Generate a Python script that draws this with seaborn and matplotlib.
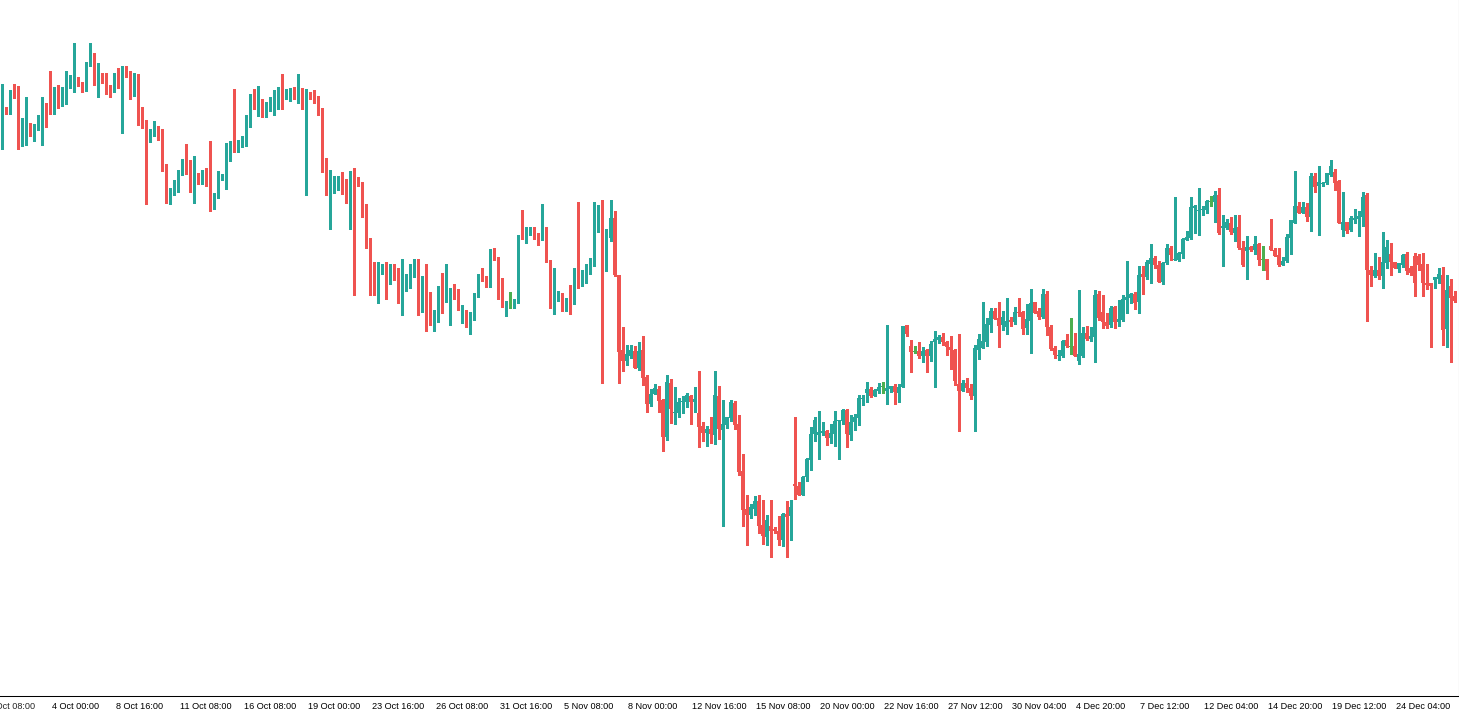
"""
Candlestick chart (H4 style) drawn with matplotlib on a seaborn white style.
Prices are arbitrary points read off the reference picture.
"""
import numpy as np
import matplotlib
matplotlib.use("Agg")
import matplotlib.pyplot as plt
import matplotlib.transforms as mtransforms
import seaborn as sns

# OHLC values, 16 bars per row (one row per axis label period)
opens = [
    888, 891, 890, 908, 903, 863, 873, 876, 867, 870, 882, 897, 897, 895, 912, 895,
    907, 916, 916, 919, 917, 910, 934, 945, 924, 927, 920, 913, 910, 926, 915, 927,
    924, 908, 921, 884, 868, 860, 870, 872, 868, 832, 802, 809, 812, 827, 837, 835,
    819, 820, 818, 824, 806, 794, 803, 821, 822, 848, 856, 853, 858, 860, 881, 905,
    894, 900, 885, 890, 901, 903, 905, 903, 907, 909, 901, 911, 905, 908, 905, 899,
    889, 835, 806, 810, 820, 823, 812, 801, 826, 821, 817, 790, 759, 723, 717, 728,
    731, 717, 732, 727, 706, 711, 714, 729, 732, 707, 713, 707, 677, 682, 709, 706,
    705, 712, 706, 692, 685, 676, 681, 705, 732, 724, 715, 744, 743, 702, 692, 698,
    697, 699, 767, 762, 767, 772, 765, 761, 772, 740, 690, 706, 707, 693, 699, 697,
    718, 715, 726, 733, 738, 783, 772, 755, 762, 782, 725, 650, 639, 644, 649, 632,
    650, 623, 596, 606, 611, 600, 563, 617, 587, 587, 598, 598, 604, 598, 587, 574,
    567, 571, 565, 604, 570, 575, 582, 597, 576, 529, 491, 485, 491, 499, 475, 463,
    474, 471, 469, 460, 486, 484, 516, 514, 505, 523, 540, 566, 565, 567, 569, 562,
    566, 579, 579, 590, 565, 578, 582, 601, 607, 611, 604, 609, 614, 609, 611, 614,
    607, 613, 675, 654, 649, 649, 644, 650, 644, 658, 660, 663, 658, 653, 650, 616,
    609, 617, 612, 604, 650, 652, 658, 675, 689, 682, 675, 673, 680, 678, 688, 688,
    672, 679, 698, 689, 683, 706, 673, 652, 644, 644, 660, 654, 654, 639, 644, 667,
    661, 663, 706, 688, 678, 675, 693, 678, 680, 700, 702, 706, 698, 726, 723, 736,
    742, 735, 718, 737, 752, 740, 740, 746, 760, 762, 792, 789, 790, 790, 799, 798,
    805, 772, 772, 777, 767, 773, 752, 749, 753, 750, 756, 741, 741, 754, 750, 745,
    735, 739, 762, 777, 794, 787, 793, 783, 824, 814, 816, 817, 825, 828, 819, 770,
    778, 770, 780, 781, 783, 805, 730, 724, 730, 724, 737, 746, 738, 731, 735, 746,
    732, 744, 744, 736, 717, 717, 720, 721, 725, 671, 714, 704,
]
highs = [
    916, 893, 910, 916, 914, 882, 903, 877, 876, 885, 903, 897, 929, 913, 915, 913,
    929, 925, 957, 923, 918, 938, 957, 947, 937, 927, 927, 915, 927, 932, 934, 934,
    929, 927, 926, 893, 880, 871, 879, 874, 871, 836, 812, 820, 830, 841, 856, 840,
    844, 827, 830, 832, 859, 807, 829, 826, 857, 859, 911, 860, 864, 885, 906, 911,
    914, 901, 898, 903, 910, 913, 926, 911, 912, 913, 926, 912, 911, 908, 910, 904,
    892, 842, 830, 824, 824, 828, 821, 829, 832, 823, 818, 796, 762, 738, 738, 736,
    738, 736, 736, 732, 741, 726, 736, 741, 741, 724, 736, 708, 690, 714, 727, 736,
    712, 716, 711, 695, 690, 688, 707, 726, 732, 724, 751, 752, 743, 722, 699, 708,
    701, 765, 790, 773, 773, 773, 767, 796, 773, 740, 732, 709, 707, 702, 715, 732,
    798, 730, 736, 742, 798, 795, 800, 771, 800, 789, 725, 673, 655, 655, 654, 658,
    664, 625, 611, 616, 614, 601, 625, 621, 613, 602, 604, 607, 605, 613, 629, 578,
    574, 583, 629, 614, 600, 583, 600, 599, 585, 546, 505, 496, 504, 505, 500, 485,
    500, 473, 484, 487, 499, 500, 583, 518, 524, 542, 573, 583, 589, 578, 570, 576,
    589, 580, 591, 591, 585, 586, 605, 605, 618, 613, 611, 617, 618, 675, 614, 616,
    616, 674, 675, 660, 654, 658, 653, 651, 659, 669, 665, 667, 659, 664, 651, 666,
    620, 622, 616, 655, 666, 698, 682, 692, 692, 698, 689, 702, 683, 693, 702, 689,
    696, 711, 698, 692, 711, 709, 675, 654, 650, 660, 666, 682, 667, 710, 673, 674,
    673, 710, 709, 705, 687, 694, 694, 700, 705, 739, 707, 708, 734, 734, 740, 756,
    744, 739, 738, 756, 754, 803, 748, 762, 769, 803, 795, 812, 794, 800, 804, 809,
    812, 785, 781, 783, 785, 785, 759, 764, 754, 764, 757, 754, 741, 781, 752, 752,
    743, 766, 780, 829, 798, 798, 797, 827, 827, 834, 818, 827, 840, 831, 820, 808,
    778, 784, 791, 789, 808, 807, 734, 747, 743, 768, 760, 757, 738, 737, 746, 748,
    734, 747, 746, 747, 736, 717, 723, 732, 733, 725, 721, 709,
]
lows = [
    851, 886, 886, 902, 851, 854, 855, 864, 859, 870, 855, 873, 886, 886, 892, 894,
    896, 912, 908, 914, 908, 909, 934, 915, 903, 917, 906, 903, 908, 912, 867, 923,
    901, 904, 875, 872, 796, 858, 864, 860, 829, 797, 796, 805, 808, 825, 826, 808,
    797, 816, 816, 814, 789, 791, 802, 820, 811, 839, 848, 848, 853, 854, 873, 891,
    884, 883, 883, 889, 885, 891, 891, 901, 899, 901, 897, 891, 805, 901, 897, 885,
    828, 805, 771, 807, 810, 806, 797, 771, 705, 814, 783, 752, 705, 705, 697, 726,
    701, 716, 720, 697, 685, 709, 712, 723, 685, 688, 669, 675, 669, 678, 687, 698,
    675, 701, 690, 677, 673, 666, 680, 703, 719, 713, 713, 740, 701, 693, 684, 692,
    692, 697, 761, 757, 765, 761, 755, 760, 738, 692, 686, 699, 689, 689, 686, 696,
    712, 714, 717, 726, 734, 768, 617, 729, 759, 724, 617, 629, 635, 642, 632, 630,
    615, 588, 594, 606, 588, 549, 560, 577, 576, 583, 587, 593, 576, 588, 553, 559,
    554, 557, 556, 561, 474, 572, 579, 571, 525, 474, 455, 482, 485, 467, 456, 455,
    443, 467, 455, 454, 443, 460, 501, 505, 505, 519, 530, 559, 541, 565, 555, 557,
    554, 541, 576, 553, 560, 570, 575, 595, 598, 603, 604, 607, 607, 596, 608, 596,
    598, 613, 664, 628, 647, 642, 638, 628, 639, 613, 657, 655, 645, 631, 615, 569,
    609, 608, 601, 569, 641, 654, 654, 668, 681, 653, 670, 666, 674, 676, 684, 666,
    666, 647, 687, 681, 682, 665, 650, 642, 640, 643, 653, 646, 644, 636, 643, 660,
    659, 638, 680, 672, 672, 673, 672, 674, 679, 687, 697, 691, 687, 706, 721, 717,
    732, 718, 716, 736, 740, 740, 739, 742, 760, 761, 767, 765, 785, 787, 794, 778,
    766, 734, 771, 766, 759, 751, 734, 721, 749, 746, 735, 730, 721, 750, 744, 734,
    735, 738, 746, 777, 787, 787, 779, 769, 808, 765, 814, 816, 824, 810, 777, 764,
    767, 769, 777, 764, 774, 679, 714, 723, 721, 712, 732, 725, 732, 728, 733, 726,
    725, 704, 730, 704, 711, 653, 712, 717, 655, 653, 638, 698,
]
closes = [
    891, 889, 908, 902, 863, 876, 875, 867, 871, 884, 896, 887, 895, 913, 896, 907,
    916, 918, 920, 916, 910, 935, 945, 931, 928, 919, 912, 910, 925, 913, 926, 924,
    908, 921, 882, 880, 860, 871, 873, 867, 830, 802, 810, 813, 827, 837, 835, 817,
    821, 818, 823, 822, 795, 805, 823, 823, 849, 854, 853, 859, 860, 883, 904, 893,
    900, 885, 890, 901, 904, 909, 903, 907, 910, 901, 911, 903, 909, 904, 898, 888,
    834, 817, 810, 821, 822, 810, 802, 828, 820, 817, 789, 758, 723, 719, 728, 731,
    718, 732, 726, 709, 712, 714, 730, 732, 707, 713, 706, 677, 682, 710, 706, 716,
    711, 705, 692, 694, 677, 682, 705, 725, 722, 715, 744, 742, 701, 693, 698, 698,
    700, 764, 761, 769, 771, 765, 761, 772, 740, 693, 708, 707, 693, 698, 696, 715,
    716, 727, 734, 738, 785, 787, 755, 763, 782, 725, 648, 639, 646, 650, 632, 649,
    622, 596, 606, 612, 599, 563, 618, 591, 588, 598, 599, 605, 598, 601, 573, 567,
    571, 566, 605, 571, 576, 583, 598, 575, 528, 490, 485, 493, 499, 474, 464, 480,
    469, 469, 460, 486, 483, 493, 514, 505, 523, 541, 566, 580, 568, 569, 562, 567,
    579, 580, 590, 566, 578, 583, 602, 602, 611, 604, 610, 613, 614, 612, 614, 608,
    613, 674, 666, 648, 649, 644, 649, 644, 656, 661, 663, 658, 653, 650, 619, 609,
    617, 612, 604, 652, 661, 659, 676, 689, 681, 674, 683, 679, 678, 688, 687, 671,
    681, 697, 687, 683, 706, 673, 651, 645, 645, 659, 654, 654, 644, 646, 667, 661,
    664, 705, 682, 678, 674, 692, 678, 681, 701, 703, 706, 697, 725, 723, 738, 742,
    735, 718, 737, 752, 745, 741, 747, 761, 763, 793, 794, 790, 791, 799, 799, 805,
    767, 774, 778, 768, 772, 752, 735, 753, 750, 756, 740, 741, 729, 750, 744, 735,
    739, 763, 780, 794, 787, 793, 783, 824, 813, 818, 817, 827, 834, 817, 777, 778,
    769, 782, 782, 784, 803, 730, 725, 730, 724, 738, 753, 738, 732, 737, 745, 729,
    727, 717, 735, 717, 715, 714, 723, 726, 670, 710, 702, 699,
]

# x-axis labels, one every 16 bars (the first one sits just left of the view)
tick_bars = list(range(-4, 364, 16))
tick_labels = [
    "1 Oct 08:00", "4 Oct 00:00", "8 Oct 16:00", "11 Oct 08:00", "16 Oct 08:00",
    "19 Oct 00:00", "23 Oct 16:00", "26 Oct 08:00", "31 Oct 16:00", "5 Nov 08:00",
    "8 Nov 00:00", "12 Nov 16:00", "15 Nov 08:00", "20 Nov 00:00", "22 Nov 16:00",
    "27 Nov 12:00", "30 Nov 04:00", "4 Dec 20:00", "7 Dec 12:00", "12 Dec 04:00",
    "14 Dec 20:00", "19 Dec 12:00", "24 Dec 04:00",
]

BULL = "#26a69a"
BEAR = "#ef5350"
DOJI = "#4caf50"
FS = 6.6
TICK_LEN = 3.0
PAD = 1.0

sns.set_style("white")
plt.rcParams["font.family"] = ["Liberation Sans", "DejaVu Sans"]

o = np.array(opens, dtype=float)
h = np.array(highs, dtype=float)
l = np.array(lows, dtype=float)
c = np.array(closes, dtype=float)
h = np.maximum(h, np.maximum(o, c))
l = np.minimum(l, np.minimum(o, c))
x = np.arange(len(o))

colors = np.where(c > o, BULL, np.where(c < o, BEAR, DOJI))
body_low = np.minimum(o, c)
body_h = np.abs(c - o)
flat = body_h < 1
body_low = np.where(flat, body_low - 0.5, body_low)
body_h = np.where(flat, 1.0, body_h)

fig = plt.figure(figsize=(14.59, 7.15), dpi=100)
ax = fig.add_axes([0, 19 / 715, 1458.5 / 1459, 696 / 715])

# wicks, then bodies
ax.vlines(x, l, h, colors=colors, linewidth=0.75, antialiased=False)
ax.bar(x, body_h, bottom=body_low, width=0.76, color=colors,
       linewidth=0, antialiased=False)

ax.set_yticks([])
ax.set_xticks(tick_bars[1:])
ax.set_xticklabels(tick_labels[1:], fontsize=FS)
ax.tick_params(axis="x", length=TICK_LEN, width=0.75, direction="out",
               pad=PAD, colors="black")
# limits after the ticks, so set_xticks cannot widen the view
ax.set_xlim(-0.575, 363.93)
ax.set_ylim(304, 1000)

shift = mtransforms.ScaledTranslation(1.5 / 100, 0, fig.dpi_scale_trans)
for lab in ax.get_xticklabels():
    lab.set_horizontalalignment("left")
    lab.set_transform(lab.get_transform() + shift)

# label of the tick that falls left of the view, partly cut by the edge
ax.annotate(tick_labels[0], xy=(tick_bars[0], 0), xycoords=("data", "axes fraction"),
            xytext=(1.08, -(TICK_LEN + PAD)), textcoords="offset points",
            ha="left", va="top", fontsize=FS, annotation_clip=False)

sns.despine(ax=ax, top=True, left=True, right=False, bottom=False)
for side in ("bottom", "right"):
    ax.spines[side].set_color("black")
    ax.spines[side].set_linewidth(0.75)

fig.savefig("out.png", dpi=100)
